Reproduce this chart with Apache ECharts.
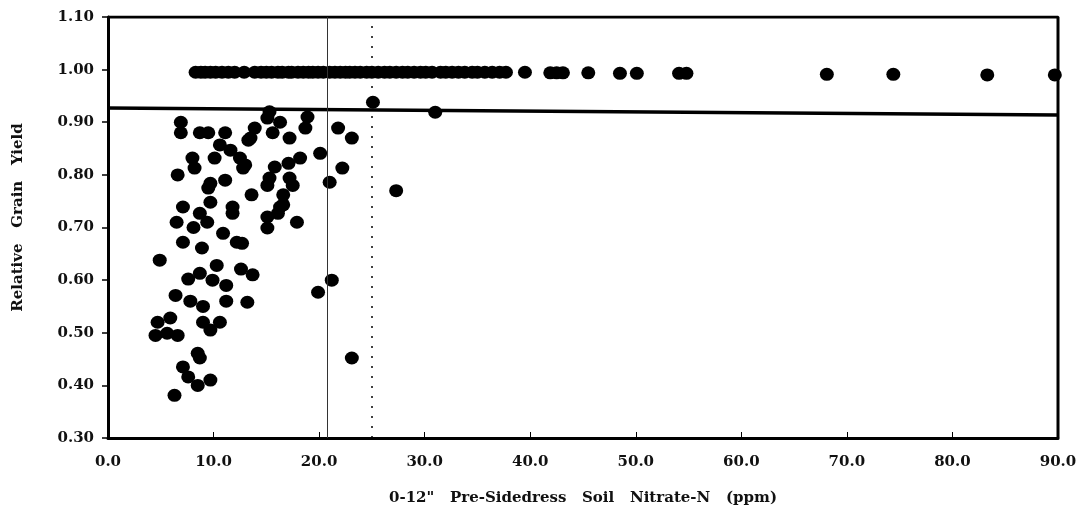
<!DOCTYPE html>
<html>
<head>
<meta charset="utf-8">
<script src="https://cdn.jsdelivr.net/npm/echarts@6/dist/echarts.min.js"></script>
<style>
  html, body { margin: 0; padding: 0; background: #fff; }
  #chart { width: 1080px; height: 517px; }
</style>
</head>
<body>
<div id="chart"></div>
<script>
// tick labels
var xTicks = [0, 10, 20, 30, 40, 50, 60, 70, 80, 90];
var yTicks = [0.3, 0.4, 0.5, 0.6, 0.7, 0.8, 0.9, 1.0, 1.1];

// sites that reached full yield (relative yield ~1.00)
var topX = [8.3, 8.8, 9.2, 9.7, 10.2, 10.8, 11.4, 12.0, 12.9, 13.9, 14.5, 15.0, 15.5, 16.1, 16.5,
  17.1, 17.4, 18.0, 18.5, 19.0, 19.4, 19.9, 20.4, 21.0, 21.5, 22.0, 22.5, 22.9, 23.4, 23.9,
  24.5, 25.0, 25.6, 26.2, 26.7, 27.3, 27.9, 28.4, 29.0, 29.6, 30.1, 30.7, 31.5, 32.0, 32.6,
  33.2, 33.8, 34.5, 35.0, 35.7, 36.4, 37.1, 37.7, 39.5, 41.9, 42.5, 43.1, 45.5, 48.5, 50.1,
  54.1, 54.8, 68.1, 74.4, 83.3, 89.7];
var topY = [0.995, 0.995, 0.995, 0.995, 0.995, 0.995, 0.995, 0.995, 0.995, 0.995, 0.995, 0.995, 0.995, 0.995, 0.995,
  0.995, 0.995, 0.995, 0.995, 0.995, 0.995, 0.995, 0.995, 0.995, 0.995, 0.995, 0.995, 0.995, 0.995, 0.995,
  0.995, 0.995, 0.995, 0.995, 0.995, 0.995, 0.995, 0.995, 0.995, 0.995, 0.995, 0.995, 0.995, 0.995, 0.995,
  0.995, 0.995, 0.995, 0.995, 0.995, 0.995, 0.995, 0.995, 0.995, 0.994, 0.994, 0.994, 0.994, 0.993, 0.993,
  0.993, 0.993, 0.991, 0.991, 0.990, 0.990];

// sites below full yield
var lowX = [6.9, 6.9, 8.7, 9.5, 11.1, 10.6, 11.6, 12.5, 12.8, 10.1, 13.5, 13.9, 8.0, 8.2, 6.6,
  9.7, 11.1, 9.5, 13.6, 15.3, 15.1, 16.3, 15.6, 17.2, 18.9, 18.7, 13.3, 21.8, 23.1, 20.1,
  22.2, 21.0, 18.2, 17.1, 15.8, 15.3, 15.1, 17.2, 17.5, 16.6, 16.6, 13.0,
  7.1, 8.7, 9.7, 11.8, 11.8, 6.5, 8.1, 9.4, 7.1, 8.9, 10.9, 12.2, 15.1, 15.1, 16.3, 17.9,
  16.1, 4.9, 7.6, 8.7, 10.3, 9.9, 11.2, 12.6, 13.7, 21.2, 19.9, 6.4, 7.8, 9.0, 11.2, 13.2, 12.7,
  4.7, 5.9, 4.5, 5.6, 6.6, 9.0, 10.6, 9.7, 8.5, 8.7, 7.1, 7.6, 8.5, 9.7, 6.3,
  23.1, 27.3, 25.1, 31.0];
var lowY = [0.90, 0.88, 0.88, 0.88, 0.88, 0.857, 0.847, 0.832, 0.813, 0.832, 0.87, 0.889, 0.832, 0.813, 0.80,
  0.784, 0.79, 0.775, 0.762, 0.92, 0.908, 0.90, 0.88, 0.87, 0.91, 0.889, 0.866, 0.889, 0.87, 0.841,
  0.813, 0.786, 0.832, 0.822, 0.815, 0.794, 0.78, 0.794, 0.78, 0.762, 0.743, 0.819,
  0.739, 0.727, 0.748, 0.739, 0.727, 0.71, 0.70, 0.71, 0.672, 0.661, 0.689, 0.672, 0.72, 0.699, 0.739, 0.71,
  0.727, 0.638, 0.602, 0.613, 0.628, 0.60, 0.59, 0.621, 0.61, 0.60, 0.577, 0.571, 0.56, 0.55, 0.56, 0.558, 0.67,
  0.52, 0.528, 0.495, 0.499, 0.495, 0.52, 0.52, 0.505, 0.461, 0.452, 0.435, 0.416, 0.40, 0.41, 0.381,
  0.452, 0.77, 0.938, 0.919];

// critical level line and reference verticals
var critX = [0, 90];
var critY = [0.927, 0.914];
var solidVX = 20.8;
var dottedVX = 25.0;

var topData = topX.map(function (x, i) { return [x, topY[i]]; });
var lowData = lowX.map(function (x, i) { return [x, lowY[i]]; });
var critData = critX.map(function (x, i) { return [x, critY[i]]; });

var serif = '"DejaVu Serif", "Liberation Serif", serif';

var chart = echarts.init(document.getElementById('chart'));

var option = {
  animation: false,
  grid: { left: 108, right: 22, top: 17, bottom: 79 },
  xAxis: {
    type: 'value',
    min: 0,
    max: 90,
    interval: 10,
    name: '0-12"   Pre-Sidedress   Soil   Nitrate-N   (ppm)',
    nameLocation: 'middle',
    nameGap: 53,
    nameTextStyle: { fontFamily: serif, fontWeight: 'bold', fontSize: 15, color: '#111' },
    axisLine: { show: true, lineStyle: { color: '#000', width: 3 } },
    axisTick: { show: true, inside: true, length: 6, lineStyle: { color: '#000', width: 1 } },
    axisLabel: {
      margin: 17,
      fontFamily: serif, fontWeight: 'bold', fontSize: 15, color: '#111',
      formatter: function (v) { return v.toFixed(1); }
    },
    splitLine: { show: false }
  },
  yAxis: {
    type: 'value',
    min: 0.3,
    max: 1.1,
    interval: 0.1,
    name: 'Relative   Grain   Yield',
    nameLocation: 'middle',
    nameGap: 82,
    nameTextStyle: { fontFamily: serif, fontWeight: 'bold', fontSize: 15, color: '#111', padding: [0, 0, 0, 20] },
    axisLine: { show: true, lineStyle: { color: '#000', width: 3 } },
    axisTick: { show: true, inside: false, length: 6, lineStyle: { color: '#000', width: 1.5 } },
    axisLabel: {
      margin: 14,
      fontFamily: serif, fontWeight: 'bold', fontSize: 15, color: '#111',
      formatter: function (v) { return v.toFixed(2); }
    },
    splitLine: { show: false }
  },
  series: [
    {
      // box: top and right borders
      type: 'line',
      data: [[0, 1.1], [90, 1.1], [90, 0.3]],
      symbol: 'none',
      silent: true,
      lineStyle: { color: '#000', width: 3 },
      markLine: {
        silent: true,
        symbol: 'none',
        label: { show: false },
        data: [
          { xAxis: solidVX, lineStyle: { color: '#333', width: 1, type: 'solid' } },
          { xAxis: dottedVX, lineStyle: { color: '#000', width: 1.5, type: [2, 8] } }
        ]
      }
    },
    {
      type: 'line',
      data: critData,
      symbol: 'none',
      silent: true,
      lineStyle: { color: '#000', width: 3.5 }
    },
    {
      type: 'scatter',
      data: topData,
      symbol: 'circle',
      symbolSize: [14, 13],
      itemStyle: { color: '#000', opacity: 1 }
    },
    {
      type: 'scatter',
      data: lowData,
      symbol: 'circle',
      symbolSize: [14, 13],
      itemStyle: { color: '#000', opacity: 1 }
    }
  ]
};

chart.setOption(option);
window.onresize = function () { chart.resize(); };
</script>
</body>
</html>
